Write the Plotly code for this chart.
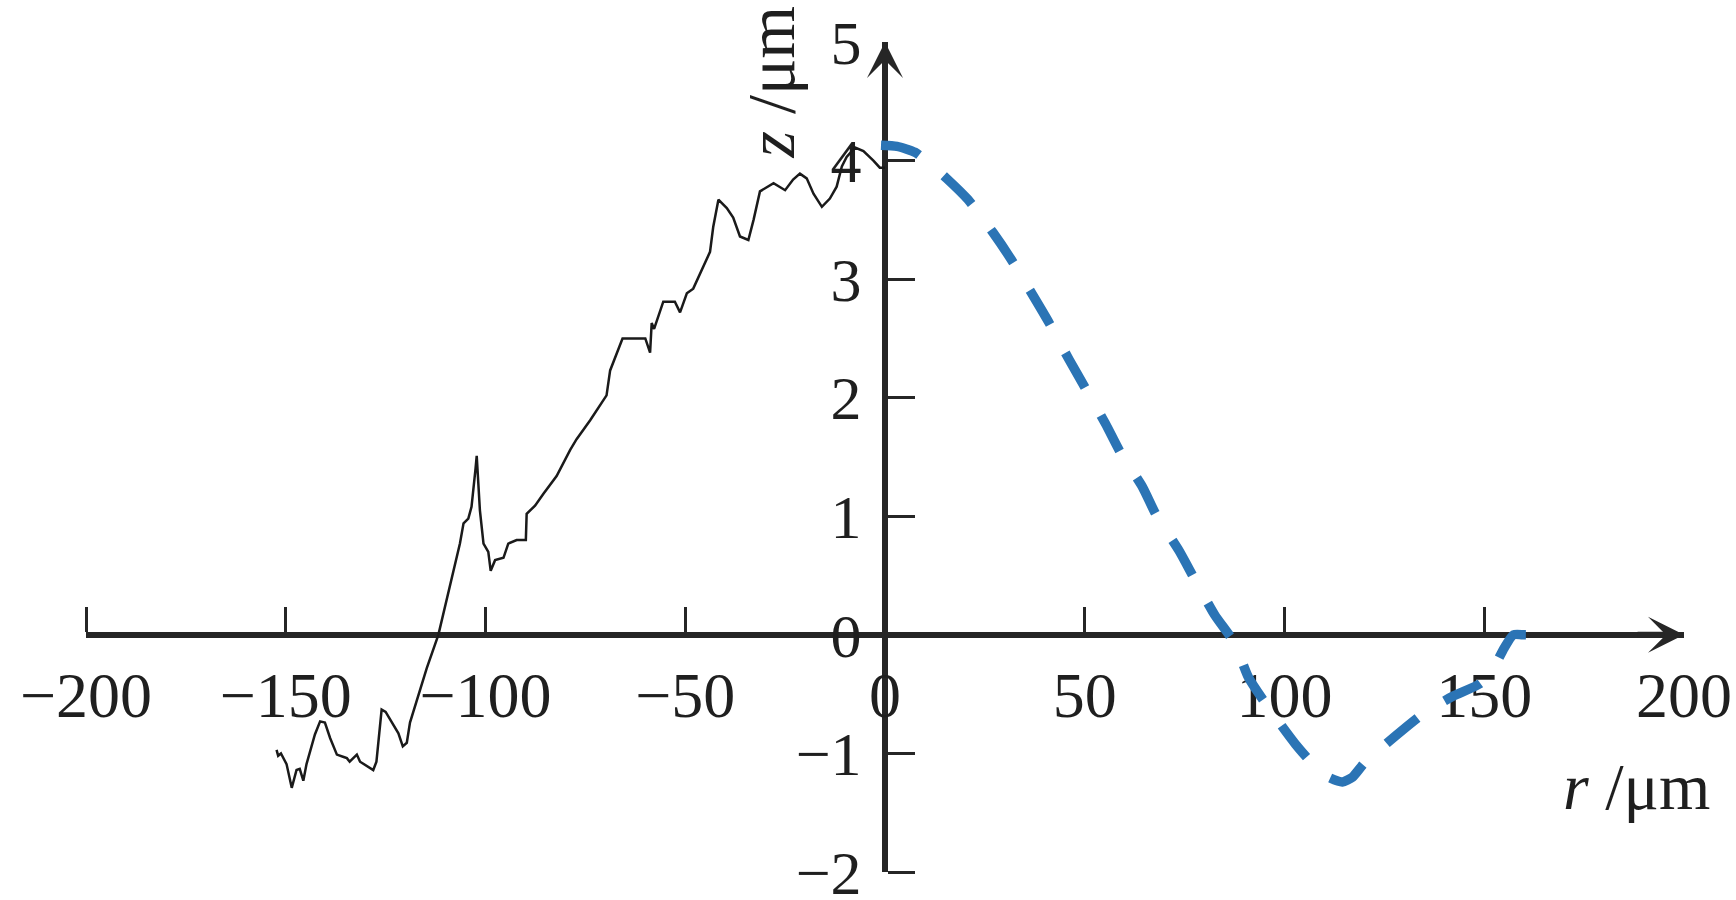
import plotly.graph_objects as go

# measured profile (black) and fitted profile (blue dashed)
r_meas = [-152.3, -151.9, -151.2, -149.8, -148.5, -147.3, -146.5, -145.6, -144.8, -143.9,
          -142.7, -141.4, -140.2, -138.9, -137.2, -135.5, -134.7, -134.0, -132.2, -131.4,
          -130.0, -128.1, -127.3, -126.0, -125.0, -123.0, -121.8, -120.7, -119.7, -118.9,
          -117.2, -114.7, -111.8, -108.9, -106.4, -105.5, -104.3, -103.5, -102.9, -102.5,
          -102.2, -101.8, -101.4, -100.5, -99.3, -98.7, -97.6, -95.5, -94.3, -92.2,
          -89.9, -89.7, -87.6, -85.5, -82.2, -78.8, -77.2, -73.8, -69.7, -68.8,
          -67.6, -65.9, -65.7, -60.0, -58.8, -58.4, -57.8, -55.5, -52.6, -51.3,
          -49.6, -48.0, -45.5, -43.8, -43.0, -41.7, -39.6, -38.0, -36.3, -34.2,
          -32.9, -31.3, -27.9, -25.0, -23.0, -21.3, -19.6, -17.9, -15.8, -13.8,
          -12.1, -10.8, -9.6, -7.5, -5.4, -2.9, -1.3, 0.0]
z_meas = [-0.97, -1.02, -1.00, -1.09, -1.29, -1.14, -1.13, -1.23, -1.09, -0.99,
          -0.84, -0.73, -0.74, -0.87, -1.01, -1.03, -1.04, -1.07, -1.01, -1.07,
          -1.10, -1.14, -1.07, -0.63, -0.65, -0.77, -0.83, -0.94, -0.91, -0.74,
          -0.56, -0.28, 0.00, 0.40, 0.77, 0.94, 0.98, 1.08, 1.25, 1.40,
          1.51, 1.23, 1.05, 0.77, 0.70, 0.54, 0.63, 0.65, 0.77, 0.80,
          0.80, 1.02, 1.09, 1.19, 1.34, 1.56, 1.65, 1.81, 2.02, 2.23,
          2.34, 2.48, 2.50, 2.50, 2.38, 2.63, 2.58, 2.81, 2.81, 2.72,
          2.88, 2.92, 3.10, 3.23, 3.44, 3.67, 3.60, 3.52, 3.36, 3.33,
          3.50, 3.74, 3.81, 3.75, 3.84, 3.89, 3.85, 3.72, 3.61, 3.68,
          3.78, 3.95, 4.03, 4.11, 4.08, 4.00, 3.94, 3.94]

r_fit = [-1, 3, 7.5, 11, 15.4, 20.8, 27.1, 31.7, 36.9, 41.1, 46.1, 50.0, 55.2, 58.9,
         64.4, 67.9, 73.6, 77.5, 82.5, 87.5, 91.0, 95.7, 102.7, 107.4, 111.0, 114.5,
         117.0, 120.0, 127.5, 134.5, 142.0, 149.0, 152.0, 155.0, 157.3, 160.0, 162.5]
z_fit = [4.13, 4.12, 4.07, 3.98, 3.85, 3.67, 3.39, 3.16, 2.87, 2.63, 2.32, 2.09, 1.78, 1.54,
         1.25, 1.01, 0.71, 0.47, 0.17, -0.07, -0.36, -0.60, -0.92, -1.10, -1.20, -1.24,
         -1.20, -1.08, -0.86, -0.67, -0.52, -0.41, -0.30, -0.11, 0.0, 0.0, 0.0]

x_ticks = [-200, -150, -100, -50, 0, 50, 100, 150, 200]
x_labels = ["−200", "−150", "−100", "−50", "0", "50", "100", "150", "200"]
y_ticks = [-2, -1, 0, 1, 2, 3, 4, 5]
y_labels = ["−2", "−1", "0", "1", "2", "3", "4", "5"]

W, H = 1736, 900
AX = "#262626"
FONT = "Liberation Serif"

x_dom = [86 / W, 1684 / W]
y_dom = [1 - 872 / H, 1 - 42 / H]
x0_pos = x_dom[0] + (x_dom[1] - x_dom[0]) * 0.5           # r = 0
y0_pos = y_dom[0] + (y_dom[1] - y_dom[0]) * 2 / 7          # z = 0

fig = go.Figure()
fig.add_trace(go.Scatter(x=r_meas, y=z_meas, mode="lines",
                         line=dict(color="#1a1a1a", width=2.5), showlegend=False))
fig.add_trace(go.Scatter(x=r_fit, y=z_fit, mode="lines", line_shape="spline",
                         line=dict(color="#2b74b5", width=9.5, dash="40px,32px",
                                   smoothing=0.6),
                         showlegend=False))

fig.update_layout(
    width=W, height=H,
    margin=dict(l=0, r=0, t=0, b=0, pad=0),
    plot_bgcolor="white", paper_bgcolor="white",
    font=dict(family=FONT, color="#1f1f1f", size=64),
    xaxis=dict(
        domain=x_dom, range=[-200, 200], anchor="free", position=y0_pos,
        showgrid=False, zeroline=False, showline=True, linecolor=AX, linewidth=6,
        tickmode="array", tickvals=x_ticks, ticktext=x_labels,
        ticks="outside", ticklen=0, tickcolor="rgba(0,0,0,0)",
        minor=dict(tickmode="array", tickvals=x_ticks[:-1], ticks="inside",
                   ticklen=25, tickwidth=3, tickcolor=AX),
        ticklabelstandoff=2, ticklabeloverflow="allow",
        layer="below traces", automargin=False,
        tickfont=dict(family=FONT, size=64),
    ),
    yaxis=dict(
        domain=y_dom, range=[-2, 5], anchor="free", position=x0_pos,
        showgrid=False, zeroline=False, showline=True, linecolor=AX, linewidth=6,
        tickmode="array", tickvals=y_ticks, ticktext=y_labels,
        ticks="outside", ticklen=0, tickcolor="rgba(0,0,0,0)",
        minor=dict(tickmode="array", tickvals=y_ticks[:-1], ticks="inside",
                   ticklen=27, tickwidth=3, tickcolor=AX),
        ticklabelstandoff=8, ticklabeloverflow="allow",
        layer="below traces", automargin=False,
        tickfont=dict(family=FONT, size=62),
    ),
)

# arrow heads on both axes
fig.add_annotation(x=200, y=0, ax=188, ay=0, xref="x", yref="y", axref="x", ayref="y",
                   text="", showarrow=True, arrowhead=3, arrowsize=1.0,
                   arrowwidth=6, arrowcolor=AX, standoff=0)
fig.add_annotation(x=0, y=5, ax=0, ay=4.6, xref="x", yref="y", axref="x", ayref="y",
                   text="", showarrow=True, arrowhead=3, arrowsize=1.0,
                   arrowwidth=6, arrowcolor=AX, standoff=0)

# axis titles
fig.add_annotation(x=188, y=-1.28, xref="x", yref="y", showarrow=False,
                   text="<i>r</i> /μm", font=dict(family=FONT, size=66, color="#1f1f1f"))
fig.add_annotation(x=-28.5, y=4.66, xref="x", yref="y", showarrow=False, textangle=-90,
                   text="<i>z</i> /μm", font=dict(family=FONT, size=68, color="#1f1f1f"))

fig.write_html("out.html", config={"displayModeBar": False},
               post_script="document.body.style.margin='0';")
